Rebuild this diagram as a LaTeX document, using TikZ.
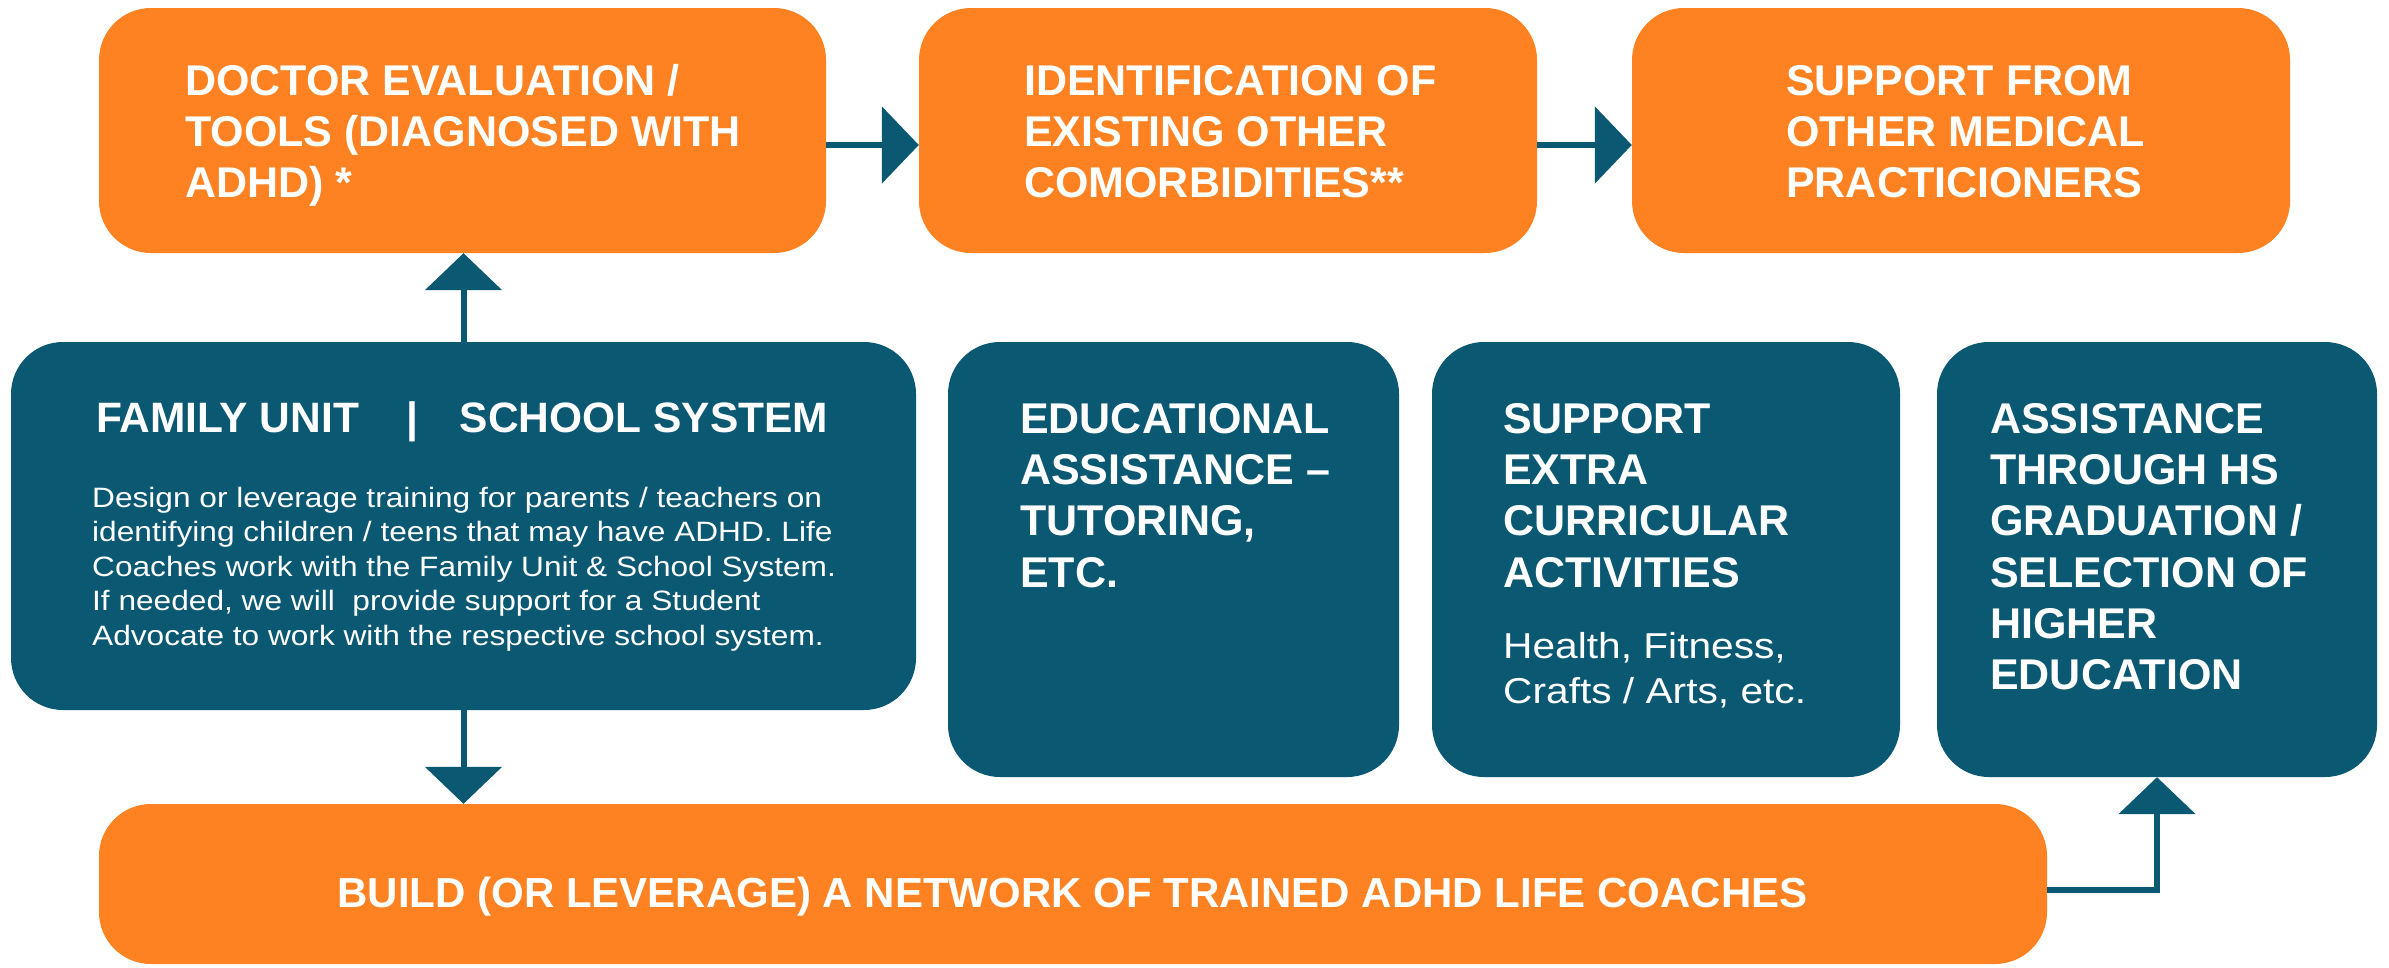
\documentclass[tikz,border=0pt]{standalone}
\usepackage{fontspec}
\setmainfont{Liberation Sans}
\newfontfamily\bodyfont{Liberation Sans}[FakeStretch=1.13]
\usetikzlibrary{arrows.meta}
\definecolor{orng}{HTML}{FF8222}
\definecolor{tealc}{HTML}{0B5872}
\newcommand{\hfont}{\fontsize{43}{51.3}\selectfont\bfseries}
\newcommand{\tstrut}{\rule{0pt}{45pt}}
\begin{document}
\begin{tikzpicture}[x=1pt,y=-1pt,
  obox/.style={rectangle, rounded corners=52pt, inner sep=0pt, fill=orng, draw=none},
  tbox/.style={rectangle, rounded corners=52pt, inner sep=0pt, fill=tealc, draw=none},
  txt/.style={anchor=north west, inner sep=0pt, align=left, text=white},
  arr/.style={draw=tealc, line width=6pt, -{Triangle[length=37pt,width=76pt]}}]
\fill[white] (0,0) rectangle (2389,967);
% top row
\node[obox, minimum width=727pt, minimum height=245pt] (doc) at (462.5,130.5) {};
\node[obox, minimum width=618pt, minimum height=245pt] (ident) at (1228,130.5) {};
\node[obox, minimum width=658pt, minimum height=245pt] (med) at (1961,130.5) {};
% middle row
\node[tbox, minimum width=905pt, minimum height=368pt] (fam) at (463.5,526) {};
\node[tbox, minimum width=451pt, minimum height=435pt] (edu) at (1173.5,559.5) {};
\node[tbox, minimum width=468pt, minimum height=435pt] (sup) at (1666,559.5) {};
\node[tbox, minimum width=440pt, minimum height=435pt] (assist) at (2157,559.5) {};
% bottom
\node[obox, minimum width=1948pt, minimum height=160pt] (build) at (1073,884) {};
% texts (node tops are 45pt above the first baseline)
\node[txt, font=\hfont] (doct) at (185,50) {\tstrut DOCTOR EVALUATION /\\TOOLS (DIAGNOSED WITH\\ADHD) *};
\node[txt, font=\hfont] (identt) at (1024,50) {\tstrut IDENTIFICATION OF\\EXISTING OTHER\\COMORBIDITIES**};
\node[txt, font=\hfont] (medt) at (1786,50) {\tstrut SUPPORT FROM\\OTHER MEDICAL\\PRACTICIONERS};
\node[anchor=base west, inner sep=0pt, text=white, font=\fontsize{42.5}{50}\selectfont\bfseries] (famh) at (96,432) {FAMILY UNIT\hspace{47pt}|\hspace{42pt}SCHOOL SYSTEM};
\node[txt, font=\bodyfont\fontsize{28}{34.5}\selectfont] (famb) at (92,462) {\tstrut Design or leverage training for parents / teachers on\\identifying children / teens that may have ADHD. Life\\Coaches work with the Family Unit \& School System.\\If needed, we will\ \ provide support for a Student\\Advocate to work with the respective school system.};
\node[txt, font=\hfont] (edut) at (1020,388) {\tstrut EDUCATIONAL\\ASSISTANCE –\\TUTORING,\\ETC.};
\node[txt, font=\hfont] (supt) at (1503,388) {\tstrut SUPPORT\\EXTRA\\CURRICULAR\\ACTIVITIES};
\node[txt, font=\bodyfont\fontsize{36}{45}\selectfont] (supb) at (1503,613) {\tstrut Health, Fitness,\\Crafts / Arts, etc.};
\node[txt, font=\hfont] (asst) at (1990,388) {\tstrut ASSISTANCE\\THROUGH HS\\GRADUATION /\\SELECTION OF\\HIGHER\\EDUCATION};
\node[anchor=base, inner sep=0pt, text=white, font=\fontsize{42}{50}\selectfont\bfseries] (buildt) at (1072.5,907) {BUILD (OR LEVERAGE) A NETWORK OF TRAINED ADHD LIFE COACHES};
% connectors
\draw[arr] ([yshift=-14.5pt]doc.east) -- ([yshift=-14.5pt]ident.west);
\draw[arr] ([yshift=-14.5pt]ident.east) -- ([yshift=-14.5pt]med.west);
\draw[arr] (fam.north) -- (fam.north |- doc.south);
\draw[arr] (fam.south) -- (fam.south |- build.north);
\draw[arr] ([yshift=-6pt]build.east) -| (assist.south);
\end{tikzpicture}
\end{document}
